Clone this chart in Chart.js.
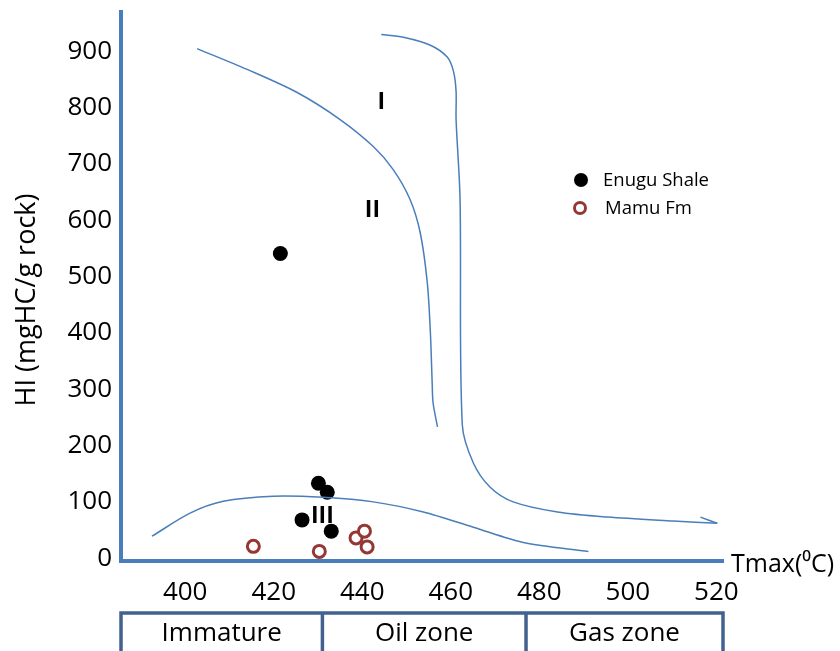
<!DOCTYPE html>
<html>
<head>
<meta charset="utf-8">
<script src="https://cdn.jsdelivr.net/npm/chart.js@4/dist/chart.umd.min.js"></script>
<style>
  html, body { margin: 0; padding: 0; background: #fff; }
  #wrap { width: 840px; height: 651px; }
</style>
</head>
<body>
<div id="wrap"><canvas id="tmax-hi"></canvas></div>
<script>
// Data
const yTicks = [0, 100, 200, 300, 400, 500, 600, 700, 800, 900];
const xTicks = [400, 420, 440, 460, 480, 500, 520];

const enuguTmax = [421.5, 430.1, 432.1, 426.4, 433.0];
const enuguHI = [541, 133, 117, 68, 48];
const mamuTmax = [415.4, 430.3, 438.6, 440.5, 441.1];
const mamuHI = [21, 12, 36, 48, 20];

// kerogen type guide lines
const typeIx = [444.3, 449.3, 455.4, 459.2, 460.6, 461.2, 461.2, 462.1, 462.6, 465.1, 468.9, 474.1, 484.1, 495.4, 510.3, 520.2];
const typeIy = [930, 925, 911, 890, 865, 829, 779, 637, 237, 169, 126, 100, 82, 73, 66, 62];
const hookX = [520.2, 516.4];
const hookY = [62, 73];
const typeIIx = [402.7, 414.0, 425.3, 435.0, 442.5, 447.0, 450.8, 453.1, 454.7, 455.4, 455.8, 456.0, 457.0];
const typeIIy = [905, 868, 827, 779, 731, 690, 637, 578, 489, 400, 311, 276, 233];
const typeIIIx = [392.5, 401.1, 408.6, 419.9, 431.2, 442.5, 453.8, 465.1, 476.4, 491.1];
const typeIIIy = [39, 80, 101, 110, 108, 100, 82, 55, 28, 12];

const typeLabels = ['I', 'II', 'III'];
const typeLabelX = [444.3, 442.3, 431.0];
const typeLabelY = [809, 617, 75];

const zones = ['Immature', 'Oil zone', 'Gas zone'];
const zoneEdges = [385.5, 431, 477, 521.5];

const seriesNames = ['Enugu Shale', 'Mamu Fm'];

function toPoints(xs, ys) {
    return xs.map((x, i) => ({ x: x, y: ys[i] }));
}

const lineBlue = '#4a7ebb';
const font = "'Open Sans', 'DejaVu Sans', sans-serif";

function curve(xs, ys) {
    return {
        data: toPoints(xs, ys),
        showLine: true,
        borderColor: lineBlue,
        borderWidth: 1.5,
        pointRadius: 0,
        tension: 0.3,
        fill: false
    };
}

// draws type labels, zone boxes, titles and legend
const extras = {
    id: 'extras',
    afterDraw(chart) {
        const ctx = chart.ctx;
        const xs = chart.scales.x;
        const ys = chart.scales.y;
        ctx.save();

        ctx.fillStyle = '#000';
        ctx.font = 'bold 23px ' + font;
        ctx.textAlign = 'center';
        ctx.textBaseline = 'middle';
        typeLabels.forEach((t, i) => {
            ctx.fillText(t, xs.getPixelForValue(typeLabelX[i]), ys.getPixelForValue(typeLabelY[i]));
        });

        // zone boxes
        ctx.strokeStyle = '#41618f';
        ctx.lineWidth = 3.5;
        const top = 613;
        const bottom = 660;
        ctx.strokeRect(xs.getPixelForValue(zoneEdges[0]), top,
            xs.getPixelForValue(zoneEdges[3]) - xs.getPixelForValue(zoneEdges[0]), bottom - top);
        for (let i = 1; i < zoneEdges.length - 1; i++) {
            const px = xs.getPixelForValue(zoneEdges[i]);
            ctx.beginPath();
            ctx.moveTo(px, top);
            ctx.lineTo(px, bottom);
            ctx.stroke();
        }
        ctx.font = '26px ' + font;
        zones.forEach((z, i) => {
            const mid = (xs.getPixelForValue(zoneEdges[i]) + xs.getPixelForValue(zoneEdges[i + 1])) / 2;
            ctx.fillText(z, mid, 634);
        });

        // axis titles
        ctx.font = '25px ' + font;
        ctx.textAlign = 'left';
        ctx.fillText('Tmax(\u2070C)', 731, 565);
        ctx.save();
        ctx.translate(27, 300);
        ctx.rotate(-Math.PI / 2);
        ctx.textAlign = 'center';
        ctx.font = '27px ' + font;
        ctx.fillText('HI (mgHC/g rock)', 0, 0);
        ctx.restore();

        // legend
        ctx.font = '18.5px ' + font;
        ctx.textAlign = 'left';
        ctx.beginPath();
        ctx.arc(581, 180, 7, 0, Math.PI * 2);
        ctx.fillStyle = '#000';
        ctx.fill();
        ctx.fillText(seriesNames[0], 603, 181);
        ctx.beginPath();
        ctx.arc(580, 208, 5.5, 0, Math.PI * 2);
        ctx.strokeStyle = '#953735';
        ctx.lineWidth = 3;
        ctx.stroke();
        ctx.fillText(seriesNames[1], 605, 209);

        ctx.restore();
    }
};

new Chart(document.getElementById('tmax-hi'), {
    type: 'scatter',
    data: {
        datasets: [
            curve(typeIx, typeIy),
            curve(hookX, hookY),
            curve(typeIIx, typeIIy),
            curve(typeIIIx, typeIIIy),
            {
                label: seriesNames[0],
                data: toPoints(enuguTmax, enuguHI),
                pointRadius: 7.5,
                backgroundColor: '#000',
                borderColor: '#000',
                borderWidth: 0
            },
            {
                label: seriesNames[1],
                data: toPoints(mamuTmax, mamuHI),
                pointRadius: 6,
                backgroundColor: '#fff',
                borderColor: '#953735',
                borderWidth: 3
            }
        ]
    },
    options: {
        responsive: true,
        maintainAspectRatio: false,
        animation: false,
        layout: { padding: { left: 0, right: 117, top: 12, bottom: 0 } },
        plugins: {
            legend: { display: false },
            tooltip: { enabled: false }
        },
        scales: {
            x: {
                type: 'linear',
                min: 385.5,
                max: 521.5,
                afterBuildTicks: s => { s.ticks = xTicks.map(v => ({ value: v })); },
                afterFit: s => { s.height = 90; s.paddingLeft = 0; s.paddingRight = 0; },
                grid: { display: false, drawTicks: false },
                border: { color: lineBlue, width: 4 },
                ticks: { color: '#000', padding: 16, font: { size: 26, family: font } }
            },
            y: {
                min: -5,
                max: 970,
                afterBuildTicks: s => { s.ticks = yTicks.map(v => ({ value: v })); },
                afterFit: s => { s.width = 121; s.paddingTop = 0; s.paddingBottom = 0; },
                grid: { display: false, drawTicks: false },
                border: { color: lineBlue, width: 4 },
                ticks: { color: '#000', padding: 9, font: { size: 26, family: font } }
            }
        }
    },
    plugins: [extras]
});
</script>
</body>
</html>
